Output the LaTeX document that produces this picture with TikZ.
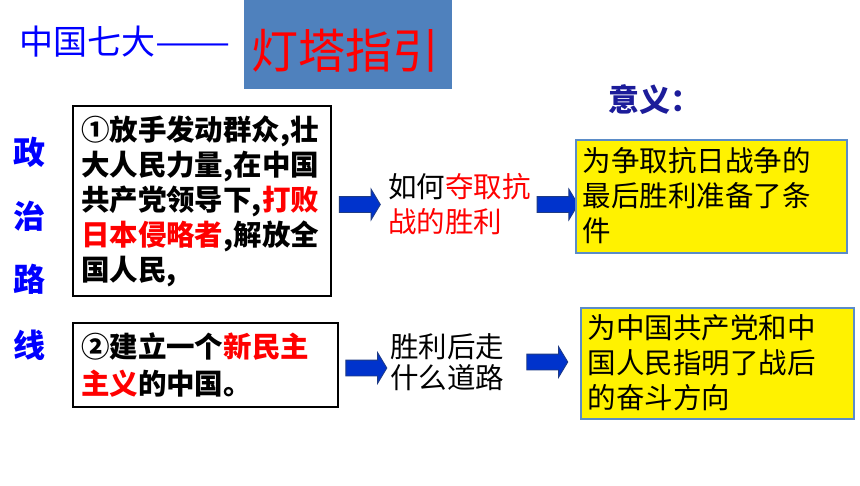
\documentclass[tikz,border=0pt]{standalone}
\usepackage{fontspec}
\setmainfont{Noto Sans CJK SC}
\usepackage{xcolor}
\usepackage{graphicx}
\usetikzlibrary{shapes.arrows,positioning}

\definecolor{lampblue}{HTML}{4F81BD}
\definecolor{arrblue}{HTML}{0033CC}
\definecolor{arrline}{HTML}{1F3B84}
\definecolor{yelline}{HTML}{5B8CC8}
\definecolor{navy}{HTML}{1C1C9A}

\begin{document}
\begin{tikzpicture}[x=1pt, y=-1pt, inner sep=0pt, node distance=7pt,
  txt/.style={font=\fontsize{28.5}{35}\selectfont, align=left},
  wayline/.style={txt, draw=black, line width=2pt, inner xsep=8pt, text width=242pt, anchor=north west, font=\bfseries\fontsize{28.5}{35}\selectfont},
  meaning/.style={txt, draw=yelline, fill=yellow, line width=2pt, inner xsep=7pt, anchor=north west},
  blockarr/.style={single arrow, draw=arrline, fill=arrblue, line width=0.8pt, inner xsep=0pt, inner ysep=7.5pt,
    minimum height=41pt, single arrow head extend=7.5pt, single arrow tip angle=118},
  side/.style={text=blue, font=\bfseries\fontsize{32}{32}\selectfont}]

\useasboundingbox (0,0) rectangle (860,485);
\fill[white] (0,0) rectangle (860,485);

% title
\node [anchor=west, text=blue, font=\fontsize{34}{34}\selectfont] (title) at (19,42) {中国七大\scalebox{1.32}[1]{——}};
\node [fill=lampblue, minimum width=208pt, minimum height=89pt, anchor=north west] (lamp) at (244,0) {};
\node [text=red, font=\fontsize{47}{47}\selectfont] (lamptxt) at (345,51) {灯塔指引};

% left column
\foreach \ch/\yy [count=\i] in {政/152, 治/216, 路/279, 线/345}
  \node [side] (side\i) at (29,\yy) {\ch};

\node [wayline, minimum height=190pt] (way1) at (72,105) {①放手发动群众,壮\\大人民力量,在中国\\共产党领导下,\textcolor{red}{打败}\\\textcolor{red}{日本侵略者},解放全\\国人民,};
\node [wayline, minimum height=84pt, text width=249pt, font=\bfseries\fontsize{28.5}{37}\selectfont] (way2) at (72,322) {②建立一个\textcolor{red}{新民主}\\\textcolor{red}{主义}的中国。};

% first row
\node [blockarr] (arr1) at (357.5,204.5) {};
\node [txt, right=of arr1] (how) {如何\textcolor{red}{夺取抗}\\\textcolor{red}{战的胜利}};
\node [blockarr, right=6pt of how] (arr2) {};
\node [meaning, minimum width=271pt, minimum height=113pt, text width=257pt] (mean1) at (574.5,138.5) {为争取抗日战争的\\最后胜利准备了条\\件};

% second row
\node [blockarr] (arr3) at (364,368) {};
\node [txt, font=\fontsize{28.5}{31}\selectfont, anchor=west] (road) at (390,362) {胜利后走\\什么道路};
\node [blockarr, right=22pt of road] (arr4) {};
\node [meaning, minimum width=273pt, minimum height=111pt, text width=259pt] (mean2) at (579.5,306.5) {为中国共产党和中\\国人民指明了战后\\的奋斗方向};

\node [text=navy, font=\bfseries\fontsize{31}{31}\selectfont, anchor=west] (sense) at (608,100) {意义：};
\end{tikzpicture}
\end{document}
